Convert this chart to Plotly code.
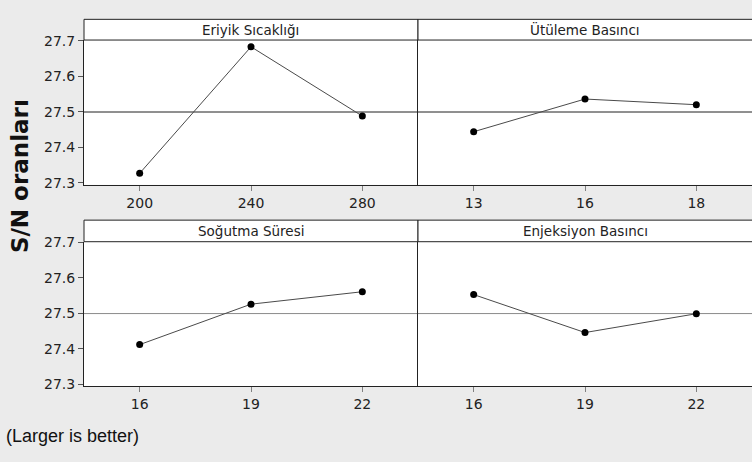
import plotly.graph_objects as go

# ---- data ----
factors = ["Eriyik Sıcaklığı", "Ütüleme Basıncı", "Soğutma Süresi", "Enjeksiyon Basıncı"]
levels_eriyik = ["200", "240", "280"]
levels_utuleme = ["13", "16", "18"]
levels_sogutma = ["16", "19", "22"]
levels_enjeksiyon = ["16", "19", "22"]
sn_eriyik = [27.327, 27.683, 27.488]
sn_utuleme = [27.444, 27.536, 27.520]
sn_sogutma = [27.412, 27.526, 27.561]
sn_enjeksiyon = [27.553, 27.446, 27.499]
overall_mean = 27.4995
y_ticks = [27.3, 27.4, 27.5, 27.6, 27.7]

W, H = 752, 462
def px(x):
    return x / W
def py(y):
    return 1 - y / H

xL = [px(84), px(418)]
xR = [px(418), 1.0]
yTop = [py(183), py(34)]
yBot = [py(390.3), py(241.5)]
strip_top = (12.7, 34)
strip_bot = (219.3, 241.5)

panels = [
    (factors[0], levels_eriyik, sn_eriyik, xL, yTop, strip_top, "#202020"),
    (factors[1], levels_utuleme, sn_utuleme, xR, yTop, strip_top, "#202020"),
    (factors[2], levels_sogutma, sn_sogutma, xL, yBot, strip_bot, "#8a8a8a"),
    (factors[3], levels_enjeksiyon, sn_enjeksiyon, xR, yBot, strip_bot, "#8a8a8a"),
]

fig = go.Figure()
tick_font = dict(family="DejaVu Sans", size=14, color="#222222")
shapes = []
annotations = []
layout_axes = {}

for i, (name, lv, vals, xd, yd, strip, refcol) in enumerate(panels, start=1):
    sx = "" if i == 1 else str(i)
    fig.add_trace(go.Scatter(
        x=lv, y=vals, xaxis="x" + sx, yaxis="y" + sx,
        mode="lines+markers",
        line=dict(color="#4a4a4a", width=1),
        marker=dict(color="black", size=7),
        showlegend=False, hoverinfo="x+y",
    ))
    left_col = xd[0] < 0.5
    layout_axes["xaxis" + sx] = dict(
        domain=xd, anchor="y" + sx, type="category",
        range=[-0.5, 2.5], showgrid=False, zeroline=False,
        showline=True, linecolor="#222222", linewidth=1,
        ticks="outside", ticklen=5, tickcolor="#808080",
        tickfont=tick_font, fixedrange=True,
    )
    layout_axes["yaxis" + sx] = dict(
        domain=yd, anchor="x" + sx, range=[27.2945, 27.702],
        tickvals=y_ticks, ticktext=[f"{v:.1f}" for v in y_ticks],
        showticklabels=left_col,
        ticks="outside" if left_col else "", ticklen=5, tickcolor="#555555",
        showgrid=False, zeroline=False,
        showline=True, linecolor="#222222", linewidth=1,
        tickfont=tick_font, fixedrange=True,
    )
    # mean reference line
    shapes.append(dict(type="line", xref="x" + sx + " domain", yref="y" + sx,
                       x0=0, x1=1, y0=overall_mean, y1=overall_mean,
                       line=dict(color=refcol, width=1), layer="below"))
    # strip header
    x1 = xd[1] if xd[1] < 1 else 1.01
    shapes.append(dict(type="rect", xref="paper", yref="paper",
                       x0=xd[0], x1=x1, y0=py(strip[1]), y1=py(strip[0]),
                       fillcolor="white", line=dict(color="#222222", width=1)))
    annotations.append(dict(xref="paper", yref="paper",
                            x=(xd[0] + xd[1]) / 2, y=py((strip[0] + strip[1]) / 2),
                            text=name, showarrow=False,
                            font=dict(family="DejaVu Sans", size=13.5, color="#222222"),
                            xanchor="center", yanchor="middle"))

annotations.append(dict(xref="paper", yref="paper", x=px(20), y=py(174),
                        text="<b>S/N oranları</b>", textangle=-90, showarrow=False,
                        font=dict(family="DejaVu Sans", size=23, color="#111111"),
                        xanchor="center", yanchor="middle"))
annotations.append(dict(xref="paper", yref="paper", x=px(4), y=py(441),
                        text="(Larger is better)", showarrow=False,
                        font=dict(family="Liberation Sans", size=18, color="#111111"),
                        xanchor="left", yanchor="middle"))

fig.update_layout(
    width=W, height=H,
    margin=dict(l=0, r=0, t=0, b=0),
    paper_bgcolor="#ebebeb", plot_bgcolor="white",
    shapes=shapes, annotations=annotations,
    **layout_axes,
)

fig.write_html("out.html", config={"displayModeBar": False},
               post_script="document.body.style.margin='0';")
